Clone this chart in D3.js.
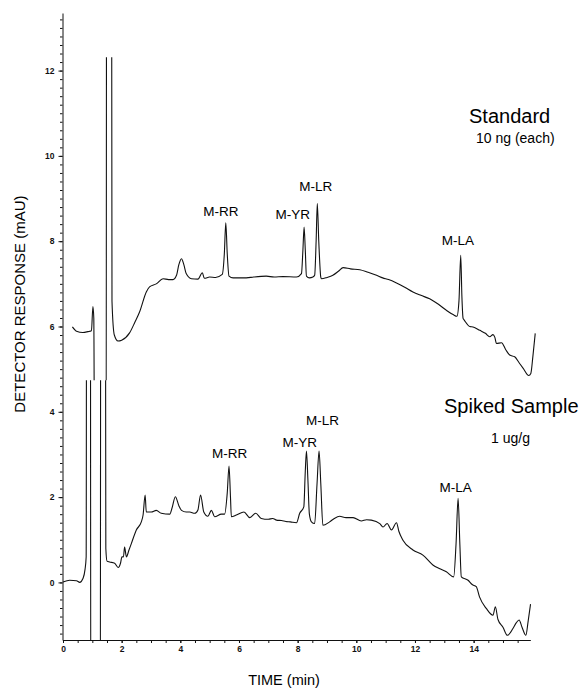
<!DOCTYPE html>
<html>
<head>
<meta charset="utf-8">
<script src="https://cdn.jsdelivr.net/npm/d3@7"></script>
<style>
  body { margin: 0; background: #fff; }
  svg { display: block; font-family: "Liberation Sans", Arial, sans-serif; }
  .trace { fill: none; stroke: #111; stroke-width: 1.1; }
  .axis path, .axis line { stroke: #111; stroke-width: 1; }
  .axis text { font-size: 8.5px; font-weight: bold; fill: #111; }
  .peak { font-size: 13.5px; fill: #000; text-anchor: middle; }
</style>
</head>
<body>
<svg width="583" height="689"></svg>
<script>
'use strict';

// standard, 10 ng each (time in min, response in mAU)
var stdTime = [0.32, 0.46, 0.68, 0.85, 0.97, 1.02, 1.05, 1.08, 1.47, 1.49, 1.65, 1.67, 1.75, 1.875, 2.0,
  2.27, 2.45, 2.61, 2.84, 2.95, 3.18, 3.41, 3.6, 3.75, 3.87, 3.95, 4.04, 4.12, 4.2, 4.38,
  4.6, 4.75, 4.82, 5.0, 5.2, 5.43, 5.5, 5.55, 5.6, 5.66, 5.8, 6.25, 6.5, 6.93, 7.2,
  7.5, 7.96, 8.13, 8.18, 8.22, 8.26, 8.3, 8.4, 8.52, 8.58, 8.63, 8.67, 8.72, 8.79, 8.81,
  9.0, 9.2, 9.4, 9.55, 9.8, 10.12, 10.4, 10.69, 10.9, 11.1, 11.37, 11.65, 11.93, 12.2, 12.5,
  12.8, 13.07, 13.3, 13.43, 13.5, 13.56, 13.6, 13.64, 13.68, 13.87, 13.98, 14.21, 14.4, 14.55, 14.66,
  14.72, 14.78, 14.95, 15.1, 15.23, 15.4, 15.55, 15.69, 15.88, 15.95, 16.02, 16.1];
var stdResp = [5.99, 5.89, 5.86, 5.88, 5.90, 6.47, 6.2, 2.0, 2.0, 20, 20, 6.6, 5.8, 5.66, 5.68,
  5.85, 6.1, 6.34, 6.81, 6.93, 7.0, 7.12, 7.1, 7.1, 7.2, 7.45, 7.59, 7.45, 7.24, 7.12,
  7.11, 7.26, 7.13, 7.16, 7.15, 7.22, 7.7, 8.43, 7.7, 7.18, 7.14, 7.14, 7.16, 7.18, 7.16,
  7.17, 7.16, 7.24, 7.8, 8.33, 7.8, 7.18, 7.14, 7.16, 7.2, 8.0, 8.88, 8.0, 7.15, 7.12,
  7.15, 7.2, 7.3, 7.38, 7.35, 7.33, 7.27, 7.2, 7.14, 7.1, 7.02, 6.92, 6.81, 6.73, 6.65,
  6.52, 6.38, 6.28, 6.24, 6.6, 7.67, 6.7, 6.19, 6.15, 6.0, 5.99, 5.91, 5.84, 5.76, 5.81,
  5.75, 5.6, 5.62, 5.45, 5.33, 5.29, 5.15, 5.02, 4.85, 4.9, 5.3, 5.84];

// spiked sample, 1 ug/g
var spkTime = [0.0, 0.23, 0.46, 0.57, 0.68, 0.75, 0.79, 0.81, 0.93, 0.95, 1.27, 1.29, 1.44, 1.46, 1.5,
  1.59, 1.76, 1.88, 1.96, 2.01, 2.06, 2.1, 2.16, 2.25, 2.33, 2.5, 2.67, 2.73, 2.8, 2.84,
  3.01, 3.18, 3.35, 3.64, 3.72, 3.83, 3.95, 4.04, 4.2, 4.32, 4.49, 4.6, 4.69, 4.8, 4.94,
  5.06, 5.17, 5.4, 5.51, 5.6, 5.66, 5.71, 5.74, 5.91, 6.17, 6.37, 6.57, 6.76, 7.0, 7.15,
  7.28, 7.45, 7.6, 7.75, 7.96, 8.07, 8.21, 8.26, 8.3, 8.35, 8.4, 8.47, 8.58, 8.66, 8.73,
  8.79, 8.86, 9.09, 9.25, 9.43, 9.65, 9.89, 10.17, 10.35, 10.51, 10.8, 10.91, 11.05, 11.2, 11.37,
  11.45, 11.59, 11.93, 12.27, 12.61, 12.85, 13.07, 13.32, 13.4, 13.47, 13.53, 13.58, 13.81, 13.95, 14.09,
  14.2, 14.43, 14.66, 14.74, 14.83, 15.0, 15.15, 15.34, 15.45, 15.55, 15.65, 15.78, 15.86, 15.94];
var spkResp = [0.01, 0.05, 0.04, 0.0, 0.09, 0.3, 0.6, 12, 12, -5, -5, 12, 12, 0.8, 0.5,
  0.48, 0.45, 0.35, 0.45, 0.6, 0.6, 0.83, 0.6, 0.76, 0.91, 1.23, 1.42, 1.58, 2.05, 1.65,
  1.65, 1.69, 1.62, 1.6, 1.75, 2.01, 1.8, 1.69, 1.65, 1.65, 1.62, 1.7, 2.05, 1.65, 1.55,
  1.69, 1.54, 1.6, 1.6, 2.1, 2.73, 2.0, 1.54, 1.58, 1.65, 1.52, 1.62, 1.5, 1.48, 1.5,
  1.46, 1.45, 1.43, 1.42, 1.4, 1.62, 1.77, 2.6, 3.08, 2.4, 1.6, 1.42, 1.38, 2.3, 3.08,
  2.3, 1.34, 1.42, 1.5, 1.55, 1.52, 1.52, 1.44, 1.47, 1.46, 1.38, 1.3, 1.38, 1.23, 1.4,
  1.2, 0.99, 0.76, 0.64, 0.41, 0.32, 0.25, 0.13, 0.9, 1.97, 0.9, 0.13, 0.05, -0.05, -0.1,
  -0.34, -0.61, -0.77, -0.57, -0.87, -1.05, -1.24, -1.08, -0.95, -0.88, -1.05, -1.24, -0.9, -0.51];

// peak annotations (label anchor in time / response units)
var peakNames = ['M-RR', 'M-YR', 'M-LR', 'M-LA'];
var stdLabelTime = [5.38, 7.83, 8.62, 13.46];
var stdLabelResp = [8.59, 8.53, 9.17, 7.9];
var spkLabelTime = [5.68, 8.07, 8.85, 13.39];
var spkLabelResp = [2.91, 3.18, 3.69, 2.12];

var xTicks = [0, 2, 4, 6, 8, 10, 12, 14];
var yTicks = [0, 2, 4, 6, 8, 10, 12];
var stdClip = [4.74, 12.31];
var spkClip = [-1.35, 4.74];

var svg = d3.select('svg');

var x = d3.scaleLinear()
  .domain([0, 16])
  .range([63, 532.3]);

var y = d3.scaleLinear()
  .domain([-1.35, 13.35])
  .range([640, 13]);

function zip(ts, vs) {
  return ts.map(function(t, i) { return [t, vs[i]]; });
}

var line = d3.line()
  .curve(d3.curveMonotoneX)
  .x(function(d) { return x(d[0]); })
  .y(function(d) { return y(d[1]); });

function clipBand(id, band) {
  svg.append('clipPath')
    .attr('id', id)
    .append('rect')
      .attr('x', 0)
      .attr('width', 583)
      .attr('y', y(band[1]))
      .attr('height', y(band[0]) - y(band[1]));
}

clipBand('clip-std', stdClip);
clipBand('clip-spk', spkClip);

// axes: minor ticks first, labelled ones on top
var yMinor = d3.range(-1.2, 13.35, 0.2);
svg.append('g')
  .attr('class', 'axis')
  .attr('transform', 'translate(62.5,0)')
  .call(d3.axisLeft(y).tickValues(yMinor).tickSize(2.5).tickSizeOuter(0).tickFormat(''));

svg.append('g')
  .attr('class', 'axis')
  .attr('transform', 'translate(62.5,0)')
  .call(d3.axisLeft(y).tickValues(yTicks).tickSize(4).tickPadding(4).tickSizeOuter(0).tickFormat(d3.format('d')))
  .select('.domain').remove();

var xMinor = d3.range(0, 16, 0.5);
svg.append('g')
  .attr('class', 'axis')
  .attr('transform', 'translate(0,640)')
  .call(d3.axisBottom(x).tickValues(xMinor).tickSize(3).tickSizeOuter(0).tickFormat(''))
  .select('.domain').attr('d', 'M' + x(0) + ',0.5H' + x(15.95));

svg.append('g')
  .attr('class', 'axis')
  .attr('transform', 'translate(0,640)')
  .call(d3.axisBottom(x).tickValues(xTicks).tickSize(3).tickPadding(3).tickSizeOuter(0).tickFormat(d3.format('d')))
  .select('.domain').remove();

// traces
svg.append('path')
  .datum(zip(stdTime, stdResp))
  .attr('class', 'trace')
  .attr('clip-path', 'url(#clip-std)')
  .attr('d', line);

svg.append('path')
  .datum(zip(spkTime, spkResp))
  .attr('class', 'trace')
  .attr('clip-path', 'url(#clip-spk)')
  .attr('d', line);

function peakLabels(ts, vs) {
  svg.append('g')
    .selectAll('text')
    .data(peakNames)
    .enter().append('text')
      .attr('class', 'peak')
      .attr('x', function(d, i) { return x(ts[i]); })
      .attr('y', function(d, i) { return y(vs[i]); })
      .text(function(d) { return d; });
}

peakLabels(stdLabelTime, stdLabelResp);
peakLabels(spkLabelTime, spkLabelResp);

// titles
svg.append('text').attr('x', 469).attr('y', 123)
  .style('font-size', '20px').text('Standard');
svg.append('text').attr('x', 476).attr('y', 143)
  .style('font-size', '14px').text('10 ng (each)');
svg.append('text').attr('x', 444).attr('y', 413)
  .style('font-size', '20px').text('Spiked Sample');
svg.append('text').attr('x', 491).attr('y', 443)
  .style('font-size', '14px').text('1 ug/g');

// axis titles
svg.append('text')
  .attr('transform', 'translate(24.5,304) rotate(-90)')
  .attr('text-anchor', 'middle')
  .style('font-size', '15px')
  .text('DETECTOR RESPONSE (mAU)');

svg.append('text')
  .attr('x', 284)
  .attr('y', 685)
  .attr('text-anchor', 'middle')
  .style('font-size', '14.5px')
  .text('TIME (min)');
</script>
</body>
</html>
